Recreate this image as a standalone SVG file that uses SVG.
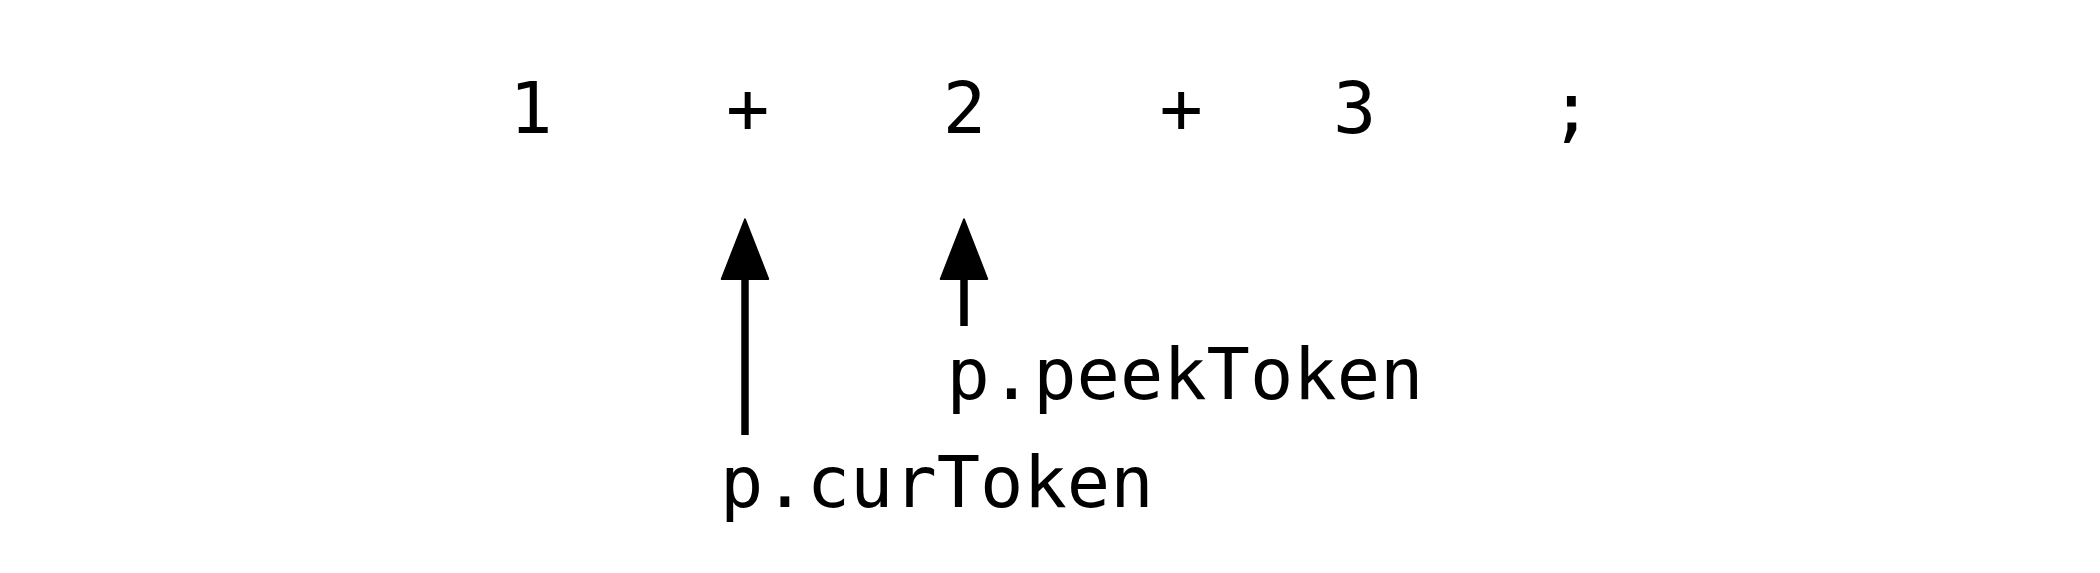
<svg xmlns="http://www.w3.org/2000/svg" width="2100" height="573" viewBox="0 0 2100 573">
  <style>
    .t { font-family: "DejaVu Sans Mono", "Liberation Mono", monospace; font-size: 72px; fill: #000; }
    .ptr { stroke: #000; stroke-width: 7.5; fill: none; marker-end: url(#head); }
  </style>
  <defs>
    <marker id="head" markerUnits="userSpaceOnUse" markerWidth="60" markerHeight="70" viewBox="-30 -5 60 75" refX="0" refY="0" orient="auto" overflow="visible">
      <path d="M0,-25 L64,0 L0,25 Z" fill="#000" stroke="#000" stroke-width="2" stroke-linejoin="round"/>
    </marker>
  </defs>
  <rect width="2100" height="573" fill="#fff"/>
  <g id="tok-1"><text class="t" x="509.3" y="132.5">1</text></g>
  <g id="tok-plus1"><text class="t" x="726" y="132.5">+</text></g>
  <g id="tok-2"><text class="t" x="942.8" y="132.5">2</text></g>
  <g id="tok-plus2"><text class="t" x="1159.5" y="132.5">+</text></g>
  <g id="tok-3"><text class="t" x="1333" y="132.5">3</text></g>
  <g id="tok-semi"><text class="t" x="1549.7" y="132.5">;</text></g>
  <g id="label-cur"><text class="t" x="720" y="507">p.curToken</text></g>
  <g id="label-peek"><text class="t" x="946.5" y="399">p.peekToken</text></g>
  <g id="connectors">
    <line class="ptr" x1="745" y1="435" x2="745" y2="279"/>
    <line class="ptr" x1="964" y1="326" x2="964" y2="279"/>
  </g>
</svg>
